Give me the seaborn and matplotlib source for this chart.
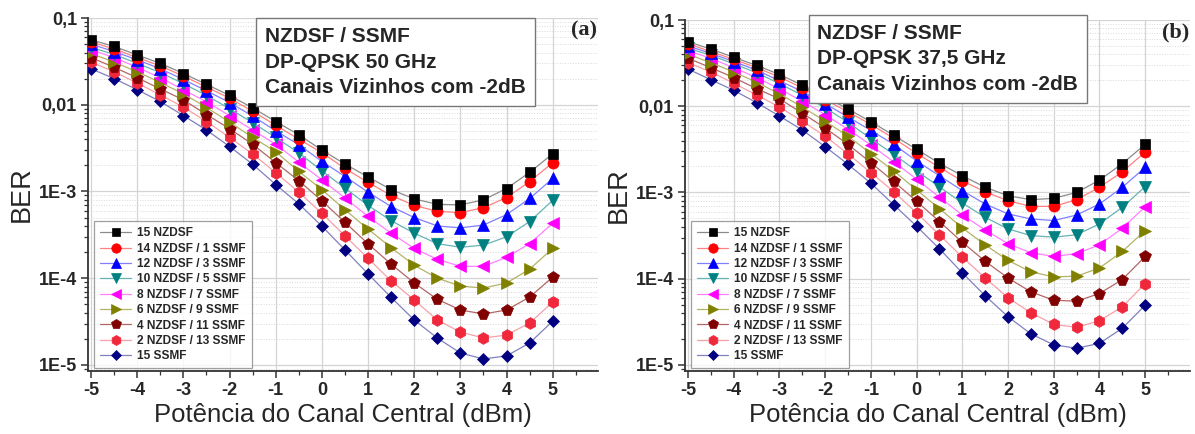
import numpy as np
import pandas as pd
import matplotlib
matplotlib.use("Agg")
import matplotlib.pyplot as plt
import seaborn as sns
from matplotlib.ticker import FixedLocator, LogLocator, NullFormatter, FuncFormatter

# ---------------- data ----------------
power = [-5, -4.5, -4, -3.5, -3, -2.5, -2, -1.5, -1, -0.5, 0,
         0.5, 1, 1.5, 2, 2.5, 3, 3.5, 4, 4.5, 5]

series_labels = ["15 NZDSF", "14 NZDSF / 1 SSMF", "12 NZDSF / 3 SSMF",
                 "10 NZDSF / 5 SSMF", "8 NZDSF / 7 SSMF", "6 NZDSF / 9 SSMF",
                 "4 NZDSF / 11 SSMF", "2 NZDSF / 13 SSMF", "15 SSMF"]

# Panel (a): DP-QPSK 50 GHz
a_15nz = [0.056, 0.047, 0.0375, 0.030, 0.0229, 0.0172, 0.0128, 0.0092, 0.0064, 0.0045, 0.0030,
          0.00207, 0.00147, 0.00105, 0.00082, 0.00071, 0.00070, 0.00080, 0.00108, 0.00166, 0.00272]
a_14nz = [0.053, 0.044, 0.035, 0.028, 0.0214, 0.016, 0.0119, 0.0084, 0.0058, 0.0040, 0.0028,
          0.00184, 0.00127, 0.00090, 0.00069, 0.00059, 0.00057, 0.00065, 0.00085, 0.0013, 0.00215]
a_12nz = [0.050, 0.041, 0.033, 0.026, 0.0195, 0.0145, 0.0106, 0.0074, 0.0050, 0.00346, 0.00222,
          0.00149, 0.00098, 0.00067, 0.00050, 0.00040, 0.00038, 0.00041, 0.00054, 0.00083, 0.00141]
a_10nz = [0.046, 0.038, 0.030, 0.0235, 0.0175, 0.0128, 0.0090, 0.0062, 0.0042, 0.00278, 0.00173,
          0.00109, 0.00069, 0.00046, 0.00033, 0.00025, 0.000227, 0.00024, 0.00030, 0.00045, 0.00079]
a_8nz = [0.043, 0.035, 0.027, 0.0205, 0.0149, 0.0108, 0.0075, 0.0051, 0.0035, 0.00218, 0.00136,
         0.00084, 0.000515, 0.00033, 0.00022, 0.000165, 0.000137, 0.000137, 0.000174, 0.00025, 0.00043]
a_6nz = [0.039, 0.031, 0.024, 0.018, 0.0134, 0.0093, 0.0063, 0.0042, 0.00287, 0.0017, 0.00105,
         0.000615, 0.000368, 0.000225, 0.000141, 0.0001, 0.000081, 0.000077, 0.000088, 0.000127, 0.000221]
a_4nz = [0.035, 0.027, 0.0205, 0.0152, 0.0114, 0.0077, 0.0053, 0.0035, 0.00215, 0.00133, 0.00078,
         0.00044, 0.000249, 0.000145, 0.000088, 0.000057, 0.000043, 0.0000386, 0.000043, 0.0000605, 0.000103]
a_2nz = [0.031, 0.024, 0.0178, 0.013, 0.0094, 0.0064, 0.0042, 0.0027, 0.00165, 0.00098, 0.00056,
         0.000308, 0.000169, 0.000093, 0.000056, 0.0000329, 0.0000239, 0.0000204, 0.0000221, 0.0000304, 0.000053]
a_15ss = [0.026, 0.020, 0.0149, 0.0109, 0.0075, 0.0051, 0.0033, 0.00206, 0.0012, 0.00072, 0.000398,
          0.000212, 0.000112, 0.00006, 0.0000329, 0.0000204, 0.0000137, 0.0000117, 0.0000127, 0.0000179, 0.000032]

# Panel (b): DP-QPSK 37,5 GHz
b_15nz = [0.056, 0.046, 0.037, 0.0297, 0.0234, 0.0175, 0.0128, 0.0093, 0.0066, 0.0046, 0.00316,
          0.00218, 0.00156, 0.00115, 0.000916, 0.000824, 0.000855, 0.0010, 0.00139, 0.00216, 0.00361]
b_14nz = [0.053, 0.043, 0.035, 0.028, 0.0218, 0.0163, 0.0119, 0.0086, 0.00615, 0.00424, 0.00284,
          0.00195, 0.00136, 0.00102, 0.0008, 0.00069, 0.00069, 0.000824, 0.00115, 0.00173, 0.00295]
b_12nz = [0.050, 0.041, 0.033, 0.0262, 0.0198, 0.0148, 0.0107, 0.0075, 0.00525, 0.00361, 0.00232,
          0.00156, 0.00105, 0.000734, 0.000564, 0.000493, 0.000472, 0.000548, 0.000734, 0.00115, 0.00195]
b_10nz = [0.047, 0.039, 0.031, 0.0245, 0.0183, 0.0134, 0.0096, 0.0065, 0.0042, 0.00277, 0.00178,
          0.00116, 0.000755, 0.000515, 0.000378, 0.000316, 0.000303, 0.000323, 0.000432, 0.000673, 0.00117]
b_8nz = [0.044, 0.036, 0.028, 0.0215, 0.0159, 0.0114, 0.0080, 0.0054, 0.00355, 0.00226, 0.00143,
         0.00088, 0.000548, 0.000368, 0.000254, 0.0002, 0.000181, 0.000195, 0.000247, 0.000385, 0.000684]
b_6nz = [0.040, 0.032, 0.025, 0.019, 0.0139, 0.0098, 0.0067, 0.0045, 0.00282, 0.00178, 0.00107,
         0.00065, 0.000388, 0.000247, 0.000163, 0.00012, 0.000105, 0.000107, 0.000133, 0.000207, 0.000362]
b_4nz = [0.036, 0.028, 0.0215, 0.016, 0.0122, 0.0083, 0.0056, 0.0036, 0.00222, 0.00134, 0.00079,
         0.00046, 0.000265, 0.000159, 0.000102, 0.0000703, 0.0000563, 0.0000548, 0.0000673, 0.0000977, 0.000181]
b_2nz = [0.032, 0.025, 0.0185, 0.0135, 0.0098, 0.0067, 0.0045, 0.0028, 0.0017, 0.00102, 0.00058,
         0.000323, 0.000178, 0.000102, 0.00006, 0.0000403, 0.0000295, 0.0000273, 0.0000326, 0.0000472, 0.0000877]
b_15ss = [0.027, 0.0203, 0.0153, 0.011, 0.0077, 0.0053, 0.0034, 0.00212, 0.00128, 0.00072, 0.000406,
          0.000222, 0.000117, 0.0000634, 0.0000362, 0.0000229, 0.0000171, 0.0000156, 0.0000178, 0.0000266, 0.0000493]

panel_a = [a_15nz, a_14nz, a_12nz, a_10nz, a_8nz, a_6nz, a_4nz, a_2nz, a_15ss]
panel_b = [b_15nz, b_14nz, b_12nz, b_10nz, b_8nz, b_6nz, b_4nz, b_2nz, b_15ss]

box_a = "NZDSF / SSMF\nDP-QPSK 50 GHz\nCanais Vizinhos com -2dB"
box_b = "NZDSF / SSMF\nDP-QPSK 37,5 GHz\nCanais Vizinhos com -2dB"

# ---------------- style ----------------
marker_colors = ["#000000", "#FF0000", "#0000FF", "#008080", "#FF00FF",
                 "#808000", "#800000", "#F0283C", "#000080"]
line_colors = ["#8a8a8a", "#FF8080", "#8080FF", "#66B3B3", "#FF80FF",
               "#B3B366", "#B36666", "#F7A0A8", "#8080C0"]
markers = ["s", "o", "^", "v", "<", ">", "p", "h", "D"]
msizes = [7.5, 8, 8.5, 8.5, 8.5, 8.5, 8.5, 8.5, 6.5]

sns.set_theme(style="white")
plt.rcParams["font.family"] = ["Liberation Sans", "DejaVu Sans"]

fig = plt.figure(figsize=(11.95, 4.34), dpi=100)
ax_a = fig.add_axes([88 / 1195, 1 - 371 / 434, 510 / 1195, 353 / 434])
ax_b = fig.add_axes([685 / 1195, 1 - 371 / 434, 505 / 1195, 351 / 434])


def fmt_y(v, pos):
    mapping = {0.1: "0,1", 0.01: "0,01", 1e-3: "1E-3", 1e-4: "1E-4", 1e-5: "1E-5"}
    for k, s in mapping.items():
        if abs(v - k) / k < 1e-6:
            return s
    return ""


def draw(ax, data, box_text, tag, box_x, box_y):
    rows = []
    for lab, vals in zip(series_labels, data):
        for p, v in zip(power, vals):
            rows.append({"power": p, "ber": v, "series": lab})
    df = pd.DataFrame(rows)
    for i, lab in enumerate(series_labels):
        sub = df[df["series"] == lab]
        sns.lineplot(data=sub, x="power", y="ber", ax=ax, color=line_colors[i],
                     linewidth=0.9, marker=markers[i], markersize=msizes[i],
                     markerfacecolor=marker_colors[i], markeredgecolor=marker_colors[i],
                     markeredgewidth=0.5, label=lab, zorder=3 + (9 - i) * 0.01)
    ax.set_yscale("log")
    ax.set_ylim(8.5e-6, 0.1)
    ax.set_xlim(-5.065, 5.98)
    ax.xaxis.set_major_locator(FixedLocator(list(range(-5, 6))))
    ax.xaxis.set_minor_locator(FixedLocator([-4.5 + k for k in range(11)]))
    ax.yaxis.set_major_locator(LogLocator(base=10, numticks=10))
    ax.yaxis.set_minor_locator(LogLocator(base=10, subs=np.arange(2, 10), numticks=20))
    ax.yaxis.set_major_formatter(FuncFormatter(fmt_y))
    ax.yaxis.set_minor_formatter(NullFormatter())
    ax.xaxis.set_major_formatter(FuncFormatter(lambda v, p: f"{int(round(v))}"))

    ax.grid(True, which="major", color="#d4d4d4", linewidth=0.9, linestyle="-", zorder=0)
    ax.grid(True, which="minor", axis="y", color="#dadada", linewidth=0.7, linestyle=":", zorder=0)
    ax.set_axisbelow(True)

    for s in ["top", "right"]:
        ax.spines[s].set_visible(False)
    for s in ["left", "bottom"]:
        ax.spines[s].set_color("#333333")
        ax.spines[s].set_linewidth(1.3)

    ax.tick_params(axis="both", which="major", direction="out", length=5, width=1.1,
                   color="#333333", labelsize=13, pad=3, bottom=True, left=True)
    ax.tick_params(axis="both", which="minor", direction="out", length=3, width=0.9,
                   color="#333333", bottom=True, left=True)
    for t in ax.get_xticklabels() + ax.get_yticklabels():
        t.set_fontweight("bold")

    ax.set_xlabel("Potência do Canal Central (dBm)", fontsize=18.5, labelpad=3)
    ax.set_ylabel("BER", fontsize=19.5, labelpad=3)

    ax.text(box_x, box_y, box_text, transform=ax.transAxes, ha="left", va="top",
            fontsize=15, fontweight="bold", linespacing=1.45, zorder=6,
            bbox=dict(boxstyle="square,pad=0.42", facecolor="white", edgecolor="#777777",
                      linewidth=1.0))
    ax.text(0.998, 0.965, tag, transform=ax.transAxes, ha="right", va="center",
            fontsize=16, fontweight="bold", family=["Liberation Serif", "DejaVu Serif"], zorder=6)

    leg = ax.legend(loc="lower left", bbox_to_anchor=(0.012, 0.008), borderaxespad=0,
                    prop={"size": 8.6, "weight": "bold"}, frameon=True, fancybox=False,
                    handlelength=2.6, labelspacing=0.28, borderpad=0.5, handletextpad=0.5,
                    markerscale=0.85)
    leg.get_frame().set_edgecolor("#888888")
    leg.get_frame().set_linewidth(0.9)
    leg.set_zorder(7)


draw(ax_a, panel_a, box_a, "(a)", 0.347, 0.975)
draw(ax_b, panel_b, box_b, "(b)", 0.262, 0.99)

fig.savefig("out.png", dpi=100, facecolor="white")
